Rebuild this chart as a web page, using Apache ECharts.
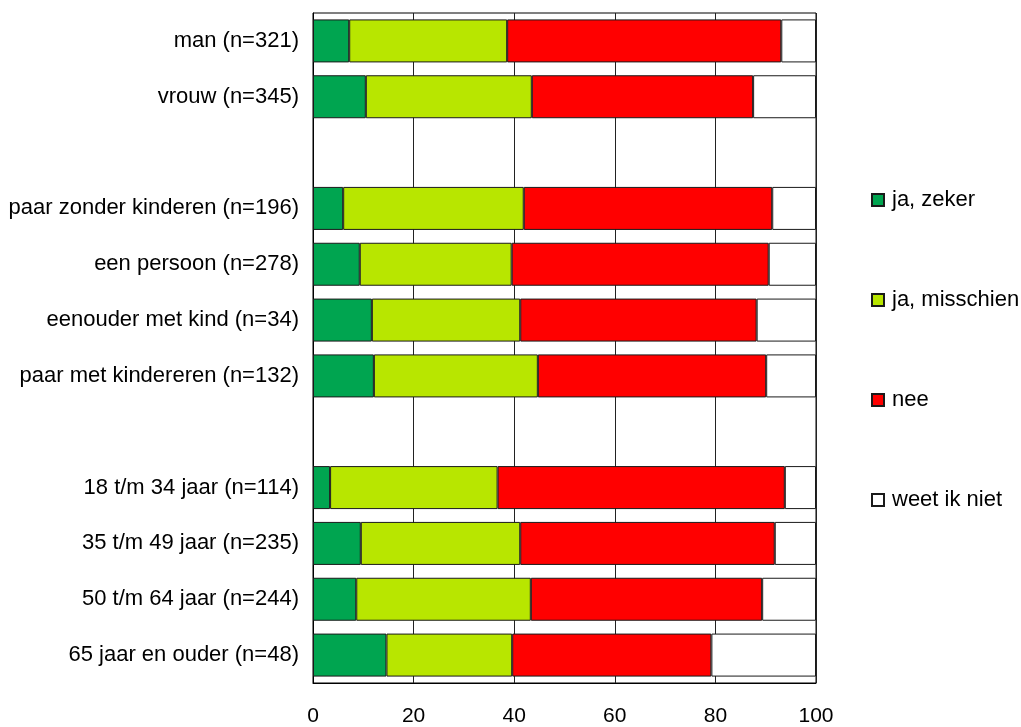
<!DOCTYPE html>
<html>
<head>
<meta charset="utf-8">
<script src="https://cdn.jsdelivr.net/npm/echarts@6/dist/echarts.min.js"></script>
<style>
  html, body { margin: 0; padding: 0; background: #fff; }
  #chart { width: 1021px; height: 727px; }
</style>
</head>
<body>
<div id="chart"></div>
<script>
// Row labels (empty strings are spacer rows between groups)
const categories = [
  'man (n=321)',
  'vrouw (n=345)',
  '',
  'paar zonder kinderen (n=196)',
  'een persoon (n=278)',
  'eenouder met kind (n=34)',
  'paar met kindereren (n=132)',
  '',
  '18 t/m 34 jaar (n=114)',
  '35 t/m 49 jaar (n=235)',
  '50 t/m 64 jaar (n=244)',
  '65 jaar en ouder (n=48)'
];

// Percentages per answer
const jaZeker      = [7.2, 10.5, null, 6.0, 9.3, 11.7, 12.1, null, 3.4, 9.5, 8.6, 14.6];
const jaMisschien  = [31.4, 33.0, null, 35.9, 30.2, 29.5, 32.6, null, 33.3, 31.7, 34.7, 25.0];
const nee          = [54.5, 44.0, null, 49.4, 51.1, 47.0, 45.4, null, 57.1, 50.6, 46.0, 39.6];
const weetIkNiet   = [6.9, 12.5, null, 8.7, 9.4, 11.8, 9.9, null, 6.2, 8.2, 10.7, 20.8];

const seriesNames = ['ja, zeker', 'ja, misschien', 'nee', 'weet ik niet'];
const xTicks = [0, 20, 40, 60, 80, 100];

const FONT = '"Liberation Sans", Arial, sans-serif';
const colors = ['#00A550', '#B8E600', '#FF0000', '#FFFFFF'];
const values = [jaZeker, jaMisschien, nee, weetIkNiet];

const chart = echarts.init(document.getElementById('chart'), null, { renderer: 'canvas' });

chart.setOption({
  animation: false,
  backgroundColor: '#fff',
  grid: {
    left: 313, right: 205, top: 13, bottom: 42,
    show: true, borderColor: '#000', borderWidth: 1, backgroundColor: 'transparent'
  },
  legend: {
    orient: 'vertical',
    left: 871,
    top: 189,
    padding: 0,
    itemWidth: 12,
    itemHeight: 12,
    itemGap: 78,
    icon: 'rect',
    data: seriesNames,
    textStyle: { fontFamily: FONT, fontSize: 22, color: '#000', lineHeight: 22, padding: [0, 0, 0, 3] }
  },
  xAxis: {
    type: 'value',
    min: xTicks[0],
    max: xTicks[xTicks.length - 1],
    interval: 20,
    axisLine: { show: true, lineStyle: { color: '#000', width: 1 } },
    axisTick: { show: false },
    axisLabel: { fontFamily: FONT, fontSize: 21, color: '#000', margin: 23 },
    splitLine: { show: true, lineStyle: { color: '#222', width: 1 } }
  },
  yAxis: {
    type: 'category',
    inverse: true,
    data: categories,
    axisLine: { show: true, lineStyle: { color: '#000', width: 1 } },
    axisTick: { show: false },
    axisLabel: { fontFamily: FONT, fontSize: 22, color: '#000', margin: 14 },
    splitLine: { show: false }
  },
  series: seriesNames.map((name, i) => ({
    name: name,
    type: 'bar',
    stack: 'total',
    barCategoryGap: '23%',
    data: values[i],
    itemStyle: { color: colors[i], borderColor: '#1a1a1a', borderWidth: 1 }
  }))
});
</script>
</body>
</html>
